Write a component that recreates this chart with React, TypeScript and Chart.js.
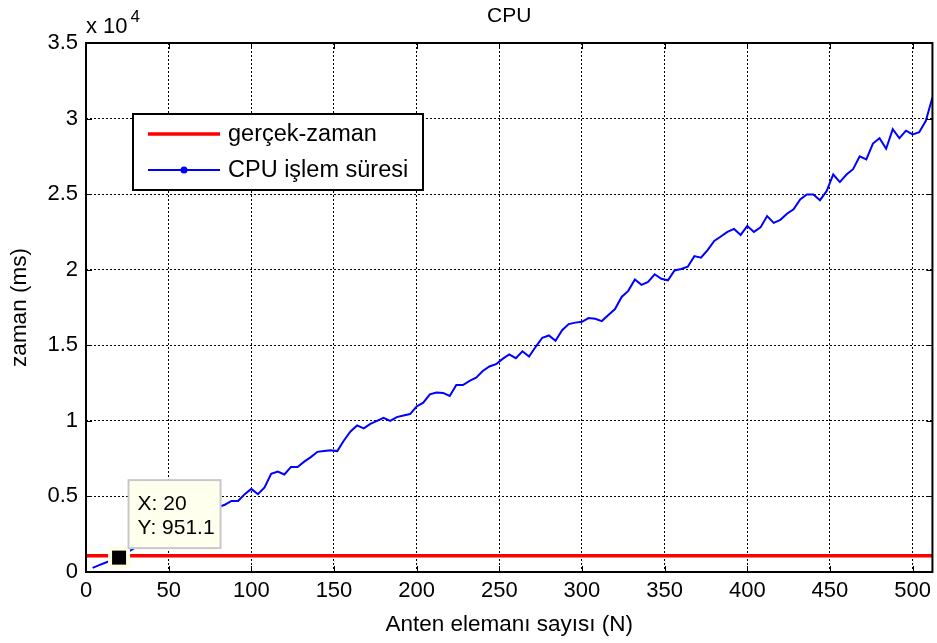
import React, { useEffect, useRef } from "react";
import { Chart, registerables } from "chart.js";

Chart.register(...registerables);

const antennaCounts = [
  4, 8, 12, 16, 20, 24, 28, 32, 36, 40, 44, 48, 52, 56, 60, 64,
  68, 72, 76, 80, 84, 88, 92, 96, 100, 104, 108, 112, 116, 120, 124, 128,
  132, 136, 140, 144, 148, 152, 156, 160, 164, 168, 172, 176, 180, 184, 188, 192,
  196, 200, 204, 208, 212, 216, 220, 224, 228, 232, 236, 240, 244, 248, 252, 256,
  260, 264, 268, 272, 276, 280, 284, 288, 292, 296, 300, 304, 308, 312, 316, 320,
  324, 328, 332, 336, 340, 344, 348, 352, 356, 360, 364, 368, 372, 376, 380, 384,
  388, 392, 396, 400, 404, 408, 412, 416, 420, 424, 428, 432, 436, 440, 444, 448,
  452, 456, 460, 464, 468, 472, 476, 480, 484, 488, 492, 496, 500, 504, 508, 512,
];

const cpuTimes = [
  270, 450, 630, 800, 951.1, 1250, 1500, 1780, 2000, 2230, 2420, 2650, 2830, 3020, 3240, 3430,
  3620, 3850, 4050, 4300, 4450, 4700, 4700, 5150, 5500, 5150, 5600, 6500, 6650, 6450, 6950, 6950,
  7300, 7600, 7950, 8000, 8050, 8000, 8700, 9300, 9700, 9500, 9800, 10000, 10200, 10000, 10250, 10350,
  10450, 10950, 11200, 11750, 11880, 11850, 11650, 12370, 12370, 12650, 12850, 13300, 13600, 13750, 14100, 14400,
  14150, 14600, 14250, 14900, 15500, 15650, 15300, 16000, 16400, 16500, 16550, 16800, 16750, 16600, 17000, 17400,
  18200, 18600, 19350, 19000, 19200, 19700, 19400, 19300, 19950, 20050, 20200, 20900, 20800, 21300, 21900, 22200,
  22500, 22700, 22300, 22900, 22500, 22800, 23550, 23100, 23300, 23700, 24000, 24650, 24980, 24980, 24600, 25200,
  26300, 25800, 26300, 26650, 27500, 27300, 28350, 28700, 28000, 29300, 28700, 29200, 28950, 29100, 29850, 31400,
];

const realTimeLimit = 1070;
const xRange = [0, 512];
const yRange = [0, 35000];
const xStep = 50;
const yStep = 5000;
const yExponent = 4;

const tipX = 20;
const tipY = 951.1;

const chartTitle = "CPU";
const xTitle = "Anten elemanı sayısı (N)";
const yTitle = "zaman (ms)";
const legendLabels = ["gerçek-zaman", "CPU işlem süresi"];

const FONT = "'Liberation Sans', Arial, Helvetica, sans-serif";

const decorPlugin = {
  id: "matlabDecor",
  afterDatasetsDraw(chart: any) {
    const { ctx, chartArea: a } = chart;
    const xs = chart.scales.x;
    const ys = chart.scales.y;
    ctx.save();

    // inward tick marks
    ctx.strokeStyle = "#000";
    ctx.lineWidth = 1;
    ctx.setLineDash([]);
    ctx.beginPath();
    xs.ticks.forEach((t: any) => {
      const px = Math.round(xs.getPixelForValue(t.value)) + 0.5;
      ctx.moveTo(px, a.bottom);
      ctx.lineTo(px, a.bottom - 6);
      ctx.moveTo(px, a.top);
      ctx.lineTo(px, a.top + 6);
    });
    ys.ticks.forEach((t: any) => {
      const py = Math.round(ys.getPixelForValue(t.value)) + 0.5;
      ctx.moveTo(a.left, py);
      ctx.lineTo(a.left + 6, py);
      ctx.moveTo(a.right, py);
      ctx.lineTo(a.right - 6, py);
    });
    ctx.stroke();

    // axes box
    ctx.lineWidth = 2;
    ctx.strokeRect(a.left, a.top, a.right - a.left, a.bottom - a.top);

    // data tip
    const px = xs.getPixelForValue(tipX);
    const py = ys.getPixelForValue(tipY);
    ctx.fillStyle = "#ffffe6";
    ctx.fillRect(px - 11, py - 11, 22, 22);
    ctx.fillStyle = "#000";
    ctx.fillRect(px - 7, py - 7, 14, 14);
    const bx = px + 9.5;
    const by = py - 77.5;
    ctx.fillStyle = "#ffffee";
    ctx.fillRect(bx, by, 92, 68);
    ctx.strokeStyle = "#c8c8c8";
    ctx.lineWidth = 2;
    ctx.strokeRect(bx, by, 92, 68);
    ctx.fillStyle = "#000";
    ctx.font = `21px ${FONT}`;
    ctx.textAlign = "left";
    ctx.textBaseline = "middle";
    ctx.fillText(`X: ${tipX}`, bx + 9, by + 24);
    ctx.fillText(`Y: ${tipY}`, bx + 9, by + 48);

    // legend
    const lx = a.left + 47;
    const ly = a.top + 71;
    ctx.fillStyle = "#fff";
    ctx.fillRect(lx, ly, 290, 76);
    ctx.strokeStyle = "#000";
    ctx.lineWidth = 2;
    ctx.strokeRect(lx, ly, 290, 76);
    ctx.strokeStyle = "#ff0000";
    ctx.lineWidth = 3.5;
    ctx.beginPath();
    ctx.moveTo(lx + 15, ly + 20);
    ctx.lineTo(lx + 87, ly + 20);
    ctx.stroke();
    ctx.strokeStyle = "#0000ff";
    ctx.lineWidth = 1.8;
    ctx.beginPath();
    ctx.moveTo(lx + 15, ly + 56);
    ctx.lineTo(lx + 87, ly + 56);
    ctx.stroke();
    ctx.fillStyle = "#0000ff";
    ctx.beginPath();
    ctx.arc(lx + 51, ly + 56, 3.5, 0, Math.PI * 2);
    ctx.fill();
    ctx.fillStyle = "#000";
    ctx.font = `23.5px ${FONT}`;
    ctx.fillText(legendLabels[0], lx + 95, ly + 21);
    ctx.fillText(legendLabels[1], lx + 95, ly + 57);

    ctx.restore();
  },
  afterDraw(chart: any) {
    const { ctx, chartArea: a } = chart;
    ctx.save();
    ctx.fillStyle = "#000";
    ctx.textBaseline = "middle";
    ctx.textAlign = "center";
    ctx.font = `21px ${FONT}`;
    const cx = (a.left + a.right) / 2;
    ctx.fillText(chartTitle, cx, 16);
    ctx.font = `22.5px ${FONT}`;
    ctx.fillText(xTitle, cx, 625);
    ctx.save();
    ctx.translate(20, (a.top + a.bottom) / 2);
    ctx.rotate(-Math.PI / 2);
    ctx.fillText(yTitle, 0, 0);
    ctx.restore();
    // exponent label
    ctx.textAlign = "left";
    ctx.textBaseline = "alphabetic";
    ctx.font = `22px ${FONT}`;
    const base = "x 10";
    ctx.fillText(base, a.left, 33);
    const w = ctx.measureText(base).width;
    ctx.font = `17px ${FONT}`;
    ctx.fillText(String(yExponent), a.left + w + 3, 22);
    ctx.restore();
  },
};

export default function App() {
  const ref = useRef<HTMLCanvasElement>(null);

  useEffect(() => {
    document.body.style.margin = "0";
    const canvas = ref.current;
    if (!canvas) return;
    const chart = new Chart(canvas, {
      type: "line",
      data: {
        datasets: [
          {
            label: legendLabels[0],
            data: [
              { x: xRange[0], y: realTimeLimit },
              { x: xRange[1], y: realTimeLimit },
            ],
            borderColor: "#ff0000",
            borderWidth: 3.5,
            pointRadius: 0,
            tension: 0,
          },
          {
            label: legendLabels[1],
            data: antennaCounts.map((n, i) => ({ x: n, y: cpuTimes[i] })),
            borderColor: "#0000ff",
            borderWidth: 2,
            pointRadius: 0,
            tension: 0,
          },
        ],
      },
      options: {
        responsive: false,
        animation: false,
        devicePixelRatio: 1,
        layout: { padding: { top: 43, right: 2, left: 0, bottom: 0 } },
        plugins: {
          legend: { display: false },
          tooltip: { enabled: false },
          title: { display: false },
        },
        scales: {
          x: {
            type: "linear",
            min: xRange[0],
            max: xRange[1],
            afterFit: (s: any) => {
              s.height = 71;
            },
            ticks: {
              stepSize: xStep,
              includeBounds: false,
              autoSkip: false,
              maxRotation: 0,
              padding: 6,
              color: "#000",
              font: { family: FONT, size: 22 },
            },
            grid: { color: "#000", lineWidth: 1, drawTicks: false },
            border: { display: false, dash: [2, 2] },
          },
          y: {
            type: "linear",
            min: yRange[0],
            max: yRange[1],
            afterFit: (s: any) => {
              s.width = 86;
            },
            ticks: {
              stepSize: yStep,
              autoSkip: false,
              padding: 8,
              color: "#000",
              font: { family: FONT, size: 22 },
              callback: (v: any) => String(Number(v) / Math.pow(10, yExponent)),
            },
            grid: { color: "#000", lineWidth: 1, drawTicks: false },
            border: { display: false, dash: [2, 2] },
          },
        },
      },
      plugins: [decorPlugin],
    });
    return () => chart.destroy();
  }, []);

  return (
    <div style={{ width: 937, height: 643, background: "#fff" }}>
      <canvas ref={ref} width={937} height={643} style={{ display: "block", width: 937, height: 643 }} />
    </div>
  );
}
